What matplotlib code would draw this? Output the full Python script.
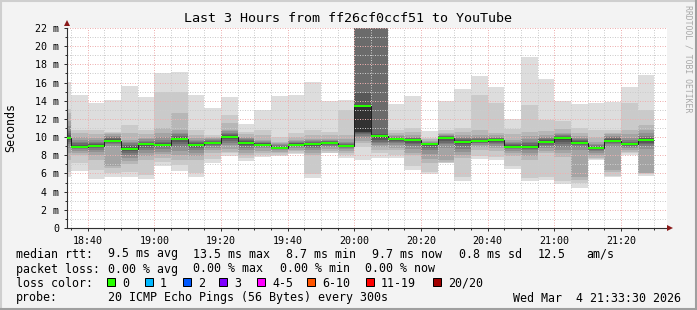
import matplotlib
matplotlib.use("Agg")
import matplotlib.pyplot as plt
import numpy as np
from matplotlib.lines import Line2D
from matplotlib.patches import Rectangle

W, H = 697, 310
MONO = "DejaVu Sans Mono"

# time in minutes after 18:00, one bar every 5 minutes
bar_start = 30
bar_step = 5
x_min, x_max = 33.8, 213.8

# median rtt per bar (ms)
median = [9.93, 8.95, 9.06, 9.6, 8.7, 9.24, 9.17, 9.83, 9.17, 9.39,
          10.05, 9.39, 9.17, 8.8, 9.17, 9.24, 9.39, 9.06, 13.45, 10.15,
          9.79, 9.68, 9.2, 9.94, 9.5, 9.6, 9.68, 8.95, 8.95, 9.5,
          9.86, 9.39, 8.8, 9.6, 9.24, 9.68]

# 20 sorted pings per bar (ms)
pings = [
    [5.65, 6.2, 7.5, 8.3, 8.8, 9.2, 9.5, 9.7, 9.85, 9.9, 9.95, 10.05, 10.2, 10.4, 10.7, 11.2, 11.8, 12.6, 13.1, 16.1],
    [6.3, 7.1, 8.0, 8.3, 8.5, 8.65, 8.75, 8.85, 8.9, 8.95, 8.95, 9.05, 9.15, 9.3, 9.5, 9.7, 10.0, 10.4, 10.8, 14.6],
    [5.4, 6.4, 7.5, 8.0, 8.4, 8.6, 8.75, 8.88, 8.97, 9.05, 9.07, 9.15, 9.25, 9.35, 9.5, 9.7, 9.9, 10.3, 10.8, 13.7],
    [5.65, 6.0, 6.6, 6.8, 9.0, 9.2, 9.35, 9.45, 9.52, 9.58, 9.62, 9.7, 9.8, 9.9, 10.0, 10.15, 10.3, 10.5, 10.6, 14.1],
    [5.65, 6.2, 7.0, 7.4, 7.7, 8.0, 8.3, 8.45, 8.6, 8.65, 8.75, 8.85, 9.0, 9.15, 9.3, 9.5, 9.7, 10.5, 11.3, 15.6],
    [5.4, 5.8, 7.5, 7.9, 8.3, 8.6, 8.85, 9.0, 9.1, 9.2, 9.25, 9.3, 9.4, 9.5, 9.6, 9.75, 9.9, 10.3, 10.8, 14.4],
    [6.86, 7.3, 7.7, 8.1, 8.4, 8.7, 8.9, 9.05, 9.12, 9.16, 9.18, 9.25, 9.35, 9.5, 9.7, 10.0, 10.5, 11.0, 15.0, 17.0],
    [6.27, 6.9, 7.5, 8.0, 8.5, 8.9, 9.2, 9.45, 9.65, 9.78, 9.88, 9.95, 10.05, 10.15, 10.3, 10.5, 10.8, 12.6, 15.0, 17.2],
    [5.65, 6.0, 7.5, 7.9, 8.3, 8.6, 8.8, 8.95, 9.1, 9.15, 9.2, 9.25, 9.35, 9.45, 9.55, 9.7, 9.9, 10.2, 10.8, 14.6],
    [7.19, 7.6, 8.3, 8.6, 8.85, 9.0, 9.15, 9.25, 9.32, 9.37, 9.4, 9.45, 9.5, 9.6, 9.7, 9.8, 9.9, 10.0, 10.2, 13.2],
    [7.95, 8.2, 8.4, 8.7, 9.1, 9.4, 9.6, 9.8, 9.95, 10.02, 10.08, 10.15, 10.25, 10.35, 10.5, 10.65, 10.8, 11.6, 12.4, 14.4],
    [7.37, 7.7, 8.0, 8.3, 8.6, 8.8, 9.0, 9.15, 9.3, 9.37, 9.4, 9.45, 9.55, 9.65, 9.75, 9.85, 10.0, 10.3, 10.6, 11.4],
    [7.85, 8.0, 8.2, 8.5, 8.8, 8.95, 9.05, 9.1, 9.15, 9.17, 9.18, 9.22, 9.3, 9.4, 9.5, 9.6, 9.7, 10.2, 10.8, 13.0],
    [7.9, 8.0, 8.2, 8.4, 8.55, 8.65, 8.72, 8.76, 8.79, 8.8, 8.82, 8.86, 8.92, 9.0, 9.1, 9.2, 9.35, 9.5, 10.0, 14.5],
    [8.1, 8.3, 8.45, 8.6, 8.75, 8.9, 9.0, 9.07, 9.12, 9.15, 9.18, 9.22, 9.3, 9.4, 9.5, 9.6, 9.7, 10.0, 10.4, 14.6],
    [5.53, 5.9, 8.0, 8.3, 8.6, 8.8, 8.95, 9.05, 9.15, 9.22, 9.26, 9.3, 9.38, 9.45, 9.55, 9.65, 9.75, 10.2, 10.8, 16.1],
    [8.2, 8.3, 8.45, 8.65, 8.9, 9.05, 9.15, 9.25, 9.33, 9.38, 9.4, 9.45, 9.5, 9.55, 9.62, 9.7, 9.8, 10.2, 10.6, 14.0],
    [7.67, 8.0, 8.3, 8.5, 8.7, 8.85, 8.95, 9.0, 9.04, 9.06, 9.07, 9.1, 9.15, 9.2, 9.3, 9.5, 9.8, 10.2, 13.0, 14.1],
    [7.5, 8.95, 9.3, 9.6, 9.9, 10.1, 10.3, 10.45, 10.55, 10.6, 13.4, 13.5, 14.9, 24.0, 25.0, 26.0, 27.0, 28.0, 29.0, 30.0],
    [7.67, 8.2, 8.6, 8.9, 9.1, 9.3, 9.5, 9.7, 9.9, 10.1, 10.2, 10.25, 10.3, 24.0, 25.0, 26.0, 27.0, 28.0, 29.0, 30.0],
    [7.74, 8.0, 8.6, 8.85, 9.1, 9.3, 9.45, 9.6, 9.7, 9.77, 9.8, 9.85, 9.9, 9.95, 10.05, 10.15, 10.2, 10.5, 10.8, 13.6],
    [6.38, 6.8, 8.0, 8.3, 8.7, 9.0, 9.2, 9.4, 9.55, 9.65, 9.7, 9.75, 9.8, 9.85, 9.9, 10.0, 10.2, 10.6, 11.0, 14.5],
    [5.9, 6.2, 7.1, 7.6, 8.1, 8.6, 8.85, 9.0, 9.1, 9.18, 9.22, 9.26, 9.3, 9.35, 9.4, 9.5, 9.6, 9.75, 9.9, 10.7],
    [7.1, 7.2, 7.3, 7.5, 8.8, 9.2, 9.4, 9.6, 9.8, 9.9, 9.95, 10.0, 10.05, 10.1, 10.15, 10.2, 10.3, 10.5, 10.8, 14.0],
    [5.17, 5.6, 7.7, 8.0, 8.4, 8.7, 9.0, 9.2, 9.35, 9.45, 9.55, 9.6, 9.7, 9.8, 9.9, 10.0, 10.2, 10.6, 11.0, 15.3],
    [7.59, 7.9, 8.6, 8.9, 9.1, 9.3, 9.4, 9.5, 9.55, 9.58, 9.62, 9.65, 9.7, 9.8, 9.9, 10.0, 10.2, 10.8, 14.6, 16.7],
    [7.48, 7.8, 8.5, 8.8, 9.0, 9.2, 9.35, 9.5, 9.6, 9.65, 9.7, 9.75, 9.8, 9.85, 9.9, 10.0, 10.2, 10.4, 13.7, 15.5],
    [6.49, 6.8, 7.9, 8.2, 8.5, 8.7, 8.8, 8.87, 8.92, 8.94, 8.96, 9.0, 9.1, 9.2, 9.35, 9.5, 9.7, 10.3, 10.9, 12.0],
    [5.17, 5.5, 7.5, 7.9, 8.3, 8.55, 8.7, 8.8, 8.88, 8.93, 8.97, 9.05, 9.15, 9.3, 9.5, 9.8, 10.1, 10.6, 13.5, 18.8],
    [5.28, 5.6, 8.2, 8.5, 8.8, 9.0, 9.15, 9.3, 9.4, 9.47, 9.53, 9.6, 9.7, 9.8, 9.9, 10.0, 10.2, 10.7, 11.9, 16.4],
    [4.8, 5.2, 7.8, 8.2, 8.6, 8.95, 9.2, 9.45, 9.65, 9.8, 9.9, 9.95, 10.0, 10.1, 10.2, 10.3, 10.5, 10.9, 11.8, 14.0],
    [4.43, 4.9, 5.3, 5.6, 8.6, 8.9, 9.1, 9.2, 9.3, 9.35, 9.43, 9.5, 9.6, 9.7, 9.8, 9.9, 10.1, 10.4, 11.0, 13.6],
    [7.48, 7.6, 7.7, 8.0, 8.3, 8.5, 8.62, 8.7, 8.76, 8.8, 8.82, 8.86, 8.92, 9.0, 9.1, 9.25, 9.5, 10.0, 10.8, 13.8],
    [5.57, 5.7, 6.2, 6.4, 8.95, 9.2, 9.35, 9.45, 9.52, 9.58, 9.62, 9.7, 9.8, 9.9, 10.0, 10.1, 10.3, 10.5, 10.8, 13.9],
    [8.0, 8.2, 8.4, 8.6, 8.8, 8.95, 9.05, 9.12, 9.18, 9.22, 9.26, 9.3, 9.38, 9.5, 9.65, 9.9, 10.3, 10.8, 13.7, 15.5],
    [5.75, 5.9, 6.0, 6.1, 8.7, 9.0, 9.2, 9.4, 9.55, 9.65, 9.7, 9.75, 9.85, 9.95, 10.1, 10.4, 10.8, 11.3, 13.0, 16.8],
]

x_ticks = [40, 60, 80, 100, 120, 140, 160, 180, 200]
x_labels = ["18:40", "19:00", "19:20", "19:40", "20:00", "20:20", "20:40", "21:00", "21:20"]
y_ticks = list(range(0, 23, 2))
y_labels = ["0"] + ["%d m" % v for v in y_ticks[1:]]

loss_names = ["0", "1", "2", "3", "4-5", "6-10", "11-19", "20/20"]
loss_colors = ["#26ff00", "#00b8ff", "#0059ff", "#7e00ff", "#ff00ff", "#ff5500", "#ff0000", "#a10000"]
loss_box_x = [107, 145, 183, 219, 257, 307, 366, 433]

rtt_items = [("median rtt:", 16), ("9.5 ms avg", 107.5), ("13.5 ms max", 193), ("8.7 ms min", 286.5),
             ("9.7 ms now", 372.5), ("0.8 ms sd", 459), ("12.5", 538), ("am/s", 586)]
loss_items = [("packet loss:", 16), ("0.00 % avg", 107.5), ("0.00 % max", 193.3),
              ("0.00 % min", 279.6), ("0.00 % now", 365)]

fig = plt.figure(figsize=(W / 100, H / 100), dpi=100)
fig.patch.set_facecolor("#f3f3f3")
ax = fig.add_axes([67 / W, 1 - 228 / H, 600 / W, 200 / H])
ax.set_facecolor("white")
ax.set_xlim(x_min, x_max)
ax.set_ylim(0, 22)

# smoke: 10 layers, outer pair lightest, inner pair darkest
p = np.array(pings)
lefts = [bar_start + i * bar_step for i in range(len(median))]
for i in range(10):
    g = int(190 / 10 * (10 - (i + 1))) + 50
    ax.bar(lefts, p[:, 19 - i] - p[:, i], bottom=p[:, i], width=bar_step, align="edge",
           color=(g / 255, g / 255, g / 255), linewidth=0, antialiased=False, zorder=1)

# dotted grid on top of the smoke
dot = (0, (1, 1.5))
for v in range(1, 23):
    c = "#eeb0b0" if v % 2 == 0 else "#cccccc"
    ax.axhline(v, color=c, lw=0.72, ls=dot, zorder=2)
for t in range(35, 214, 5):
    c = "#eeb0b0" if t % 20 == 0 else "#cccccc"
    ax.axvline(t, color=c, lw=0.72, ls=dot, zorder=2)

# median line plus loss colour band
edges = [bar_start + i * bar_step for i in range(len(median) + 1)]
ax.stairs(median, edges, baseline=None, color="#202020", lw=0.72, zorder=3)
med = np.array(median)
ax.bar(lefts, 0.22, bottom=med - 0.11, width=bar_step, align="edge",
       color="#26ff00", linewidth=0, antialiased=False, zorder=4)

ax.set_xticks(x_ticks)
ax.set_xticklabels(x_labels, family=MONO, fontsize=7.2)
ax.set_xticks(range(35, 214, 5), minor=True)
ax.set_yticks(y_ticks)
ax.set_yticklabels(y_labels, family=MONO, fontsize=7.2)
ax.set_yticks(range(0, 23), minor=True)
ax.tick_params(which="major", length=2.5, width=0.72, color="#303030", pad=3.2)
ax.tick_params(which="minor", length=1.4, width=0.72, color="#303030")
for s in ["top", "right"]:
    ax.spines[s].set_visible(False)
for s in ["left", "bottom"]:
    ax.spines[s].set_color("#303030")
    ax.spines[s].set_linewidth(0.8)

# arrow heads
ax.plot([x_min], [22.6], marker="^", ms=4.2, color="#8b1a1a", mew=0, clip_on=False, zorder=5)
ax.plot([x_max + 1.0], [0], marker=">", ms=4.2, color="#8b1a1a", mew=0, clip_on=False, zorder=5)


def put(x, y, s, **kw):
    kw.setdefault("family", MONO)
    kw.setdefault("size", 8.4)
    fig.text(x / W, 1 - y / H, s, va="center", **kw)


put(348, 19, "Last 3 Hours from ff26cf0ccf51 to YouTube", ha="center", size=9.6)
put(11, 128, "Seconds", ha="center", rotation=90)
put(688, 59, "RRDTOOL / TOBI OETIKER", ha="center", rotation=270, size=5.9, color="#a8a8a8")

for s, x in rtt_items:
    put(x, 254, s)
for s, x in loss_items:
    put(x, 269, s)
put(16, 283.5, "loss color:")
for name, c, x in zip(loss_names, loss_colors, loss_box_x):
    fig.add_artist(Rectangle((x / W, 1 - 286 / H), 8 / W, 8 / H, transform=fig.transFigure,
                             facecolor=c, edgecolor="black", lw=0.72))
    put(x + 15, 283.5, name)
put(16, 298, "probe:")
put(107.5, 298, "20 ICMP Echo Pings (56 Bytes) every 300s")
put(681, 298, "Wed Mar  4 21:33:30 2026", ha="right")

# frame around the image
fig.add_artist(Line2D([0, 1], [1 - 1 / H, 1 - 1 / H], transform=fig.transFigure, color="#cfcfcf", lw=1.5))
fig.add_artist(Line2D([1 / W, 1 / W], [0, 1], transform=fig.transFigure, color="#cfcfcf", lw=1.5))
fig.add_artist(Line2D([0, 1], [1 / H, 1 / H], transform=fig.transFigure, color="#9f9f9f", lw=1.5))
fig.add_artist(Line2D([1 - 1 / W, 1 - 1 / W], [0, 1], transform=fig.transFigure, color="#9f9f9f", lw=1.5))

fig.savefig("out.png", dpi=100, facecolor=fig.get_facecolor())
